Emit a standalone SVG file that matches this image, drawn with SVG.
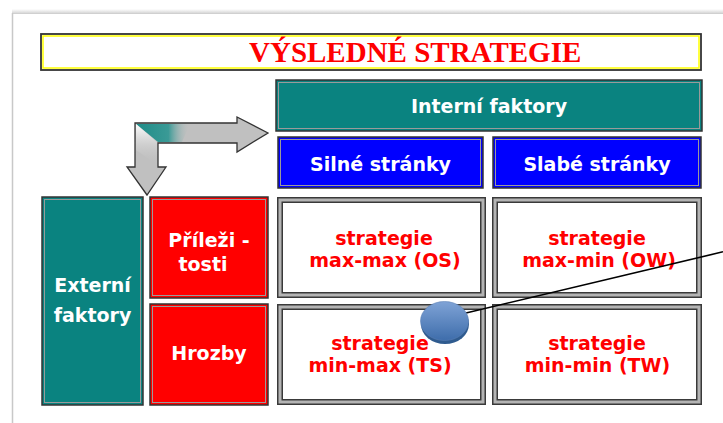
<svg xmlns="http://www.w3.org/2000/svg" width="723" height="423" viewBox="0 0 723 423">
  <defs>
    <style>
      .lbl{font-family:"DejaVu Sans","Liberation Sans",sans-serif;font-weight:bold;font-size:19px;text-anchor:middle}
      .w{fill:#ffffff}
      .r{fill:#ff0000}
      .teal{fill:#0a8380}
      .blue{fill:#0000ff}
      .red{fill:#ff0000}
      .edge{stroke:#333333;stroke-width:1.5}
      .inner{fill:none;stroke:#9a9a9a;stroke-width:1}
      .o1{fill:#3a3a3a}
      .o2{fill:#b4b4b4}
      .o3{fill:#ffffff}
    </style>
    <linearGradient id="tealfade" x1="0" y1="0" x2="1" y2="0">
      <stop offset="0" stop-color="#1f8c88"/>
      <stop offset="0.6" stop-color="#3a9a96"/>
      <stop offset="1" stop-color="#c0c0c0" stop-opacity="0"/>
    </linearGradient>
    <linearGradient id="whitefade" x1="0" y1="0" x2="0" y2="1">
      <stop offset="0" stop-color="#ffffff"/>
      <stop offset="1" stop-color="#c0c0c0" stop-opacity="0"/>
    </linearGradient>
    <linearGradient id="ball" x1="0" y1="0" x2="0" y2="1">
      <stop offset="0" stop-color="#7fa3d6"/>
      <stop offset="1" stop-color="#3e6dab"/>
    </linearGradient>
    <linearGradient id="shadowTop" x1="0" y1="0" x2="0" y2="1">
      <stop offset="0" stop-color="#ffffff"/>
      <stop offset="1" stop-color="#d8d8d8"/>
    </linearGradient>
  </defs>

  <rect width="723" height="423" fill="#ffffff"/>

  <!-- page frame -->
  <g id="page">
    <rect x="12" y="9" width="711" height="4" fill="url(#shadowTop)"/>
    <line x1="12" y1="13.5" x2="723" y2="13.5" stroke="#d0d0d0" stroke-width="1.2"/>
    <line x1="12.5" y1="13" x2="12.5" y2="423" stroke="#c8c8c8" stroke-width="1.5"/>
  </g>

  <!-- title -->
  <g id="title">
    <rect x="41" y="34" width="660" height="36" fill="#ffffff" stroke="#333333" stroke-width="1.8"/>
    <rect x="43" y="36" width="656" height="32" fill="none" stroke="#ffff00" stroke-width="1.5"/>
    <text x="249" y="62" font-family="Liberation Serif, Times New Roman, serif" font-weight="bold" font-size="29" fill="#ff0000">VÝSLEDNÉ STRATEGIE</text>
  </g>

  <!-- arrow -->
  <g id="arrow">
    <polygon points="135,123 237,123 237,117 268,133 237,152 237,143 158,143 158,167 166,167 147,195 127,167 135,167" fill="#c0c0c0" stroke="#333333" stroke-width="1.3" stroke-linejoin="miter"/>
    <polygon points="136,124 190,124 182,142 158,142" fill="url(#tealfade)"/>
    <polygon points="136,124 157,142 157,165 136,150" fill="url(#whitefade)"/>
  </g>

  <!-- header boxes -->
  <g id="interni">
    <rect class="teal edge" x="276" y="80" width="426" height="51"/>
    <rect class="inner" x="278.5" y="82.5" width="421" height="46"/>
    <text class="lbl w" x="489" y="113" font-size="20">Interní faktory</text>
  </g>
  <g id="silne">
    <rect class="blue edge" x="278" y="137" width="205" height="51"/>
    <rect class="inner" x="280.5" y="139.5" width="200" height="46"/>
    <text class="lbl w" x="380.5" y="171">Silné stránky</text>
  </g>
  <g id="slabe">
    <rect class="blue edge" x="493" y="137" width="208" height="51"/>
    <rect class="inner" x="495.5" y="139.5" width="203" height="46"/>
    <text class="lbl w" x="597" y="171">Slabé stránky</text>
  </g>

  <!-- left column -->
  <g id="externi">
    <rect class="teal edge" x="42" y="197" width="101" height="208"/>
    <rect class="inner" x="44.5" y="199.5" width="96" height="203"/>
    <text class="lbl w" x="92.5" y="292">Externí</text>
    <text class="lbl w" x="92.5" y="322">faktory</text>
  </g>
  <g id="prilezitosti">
    <rect class="red edge" x="150" y="197" width="118" height="101"/>
    <rect class="inner" x="152.5" y="199.5" width="113" height="96"/>
    <text class="lbl w" x="209" y="247">Příleži -</text>
    <text class="lbl w" x="203" y="271">tosti</text>
  </g>
  <g id="hrozby">
    <rect class="red edge" x="150" y="304" width="118" height="101"/>
    <rect class="inner" x="152.5" y="306.5" width="113" height="96"/>
    <text class="lbl w" x="209" y="360">Hrozby</text>
  </g>

  <!-- strategy boxes -->
  <g id="os">
    <rect class="o1" x="277" y="197" width="209" height="101"/>
    <rect class="o2" x="278.5" y="198.5" width="206" height="98"/>
    <rect class="o1" x="281.5" y="201.5" width="200" height="92"/>
    <rect class="o3" x="283" y="203" width="197" height="89"/>
    <text class="lbl r" x="384" y="245">strategie</text>
    <text class="lbl r" x="385" y="267">max-max (OS)</text>
  </g>
  <g id="ow">
    <rect class="o1" x="492" y="197" width="210" height="101"/>
    <rect class="o2" x="493.5" y="198.5" width="207" height="98"/>
    <rect class="o1" x="496.5" y="201.5" width="201" height="92"/>
    <rect class="o3" x="498" y="203" width="198" height="89"/>
    <text class="lbl r" x="597" y="245">strategie</text>
    <text class="lbl r" x="599" y="267">max-min (OW)</text>
  </g>
  <g id="ts">
    <rect class="o1" x="277" y="304" width="209" height="101"/>
    <rect class="o2" x="278.5" y="305.5" width="206" height="98"/>
    <rect class="o1" x="281.5" y="308.5" width="200" height="92"/>
    <rect class="o3" x="283" y="310" width="197" height="89"/>
    <text class="lbl r" x="380" y="350">strategie</text>
    <text class="lbl r" x="380" y="372">min-max (TS)</text>
  </g>
  <g id="tw">
    <rect class="o1" x="492" y="304" width="210" height="101"/>
    <rect class="o2" x="493.5" y="305.5" width="207" height="98"/>
    <rect class="o1" x="496.5" y="308.5" width="201" height="92"/>
    <rect class="o3" x="498" y="310" width="198" height="89"/>
    <text class="lbl r" x="597" y="350">strategie</text>
    <text class="lbl r" x="597.5" y="372">min-min (TW)</text>
  </g>

  <!-- connectors -->
  <g id="connectors">
    <line x1="466" y1="313" x2="723" y2="251.8" stroke="#000000" stroke-width="1.6"/>
  </g>

  <!-- callout marker -->
  <g id="callout">
    <ellipse cx="445" cy="324" rx="24" ry="20" fill="#2f5b8f"/>
    <ellipse cx="444.5" cy="321" rx="24" ry="19.5" fill="url(#ball)" stroke="#5a80b5" stroke-width="0.6"/>
  </g>
</svg>
